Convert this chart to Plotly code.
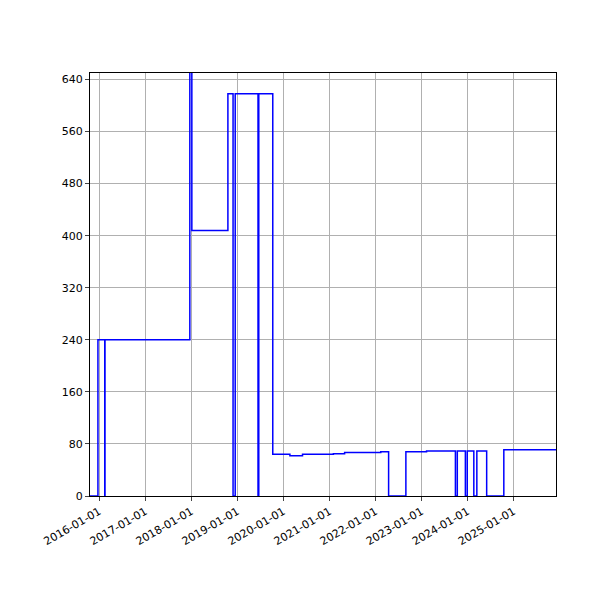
import plotly.graph_objects as go

dates = ["2015-10-20","2015-12-22","2016-02-14","2016-02-16","2017-12-20","2018-01-05",
         "2018-10-18","2018-11-28","2018-12-15","2019-06-14","2019-06-20","2019-10-09",
         "2020-02-22","2020-06-01","2021-02-01","2021-05-01","2022-02-12","2022-04-15",
         "2022-08-30","2023-02-10","2023-09-27","2023-10-12","2023-12-15","2023-12-30",
         "2024-02-20","2024-03-15","2024-06-01","2024-10-15","2025-12-03"]
values = [0,240,0,240,700,408,
          618,0,618,0,618,64,
          62,64,65,67,68,0,
          68,69,0,69,0,69,
          0,69,0,71,71]
ytick_vals = [0,80,160,240,320,400,480,560,640]
xtick_vals = [f"{y}-01-01" for y in range(2016,2026)]

fig = go.Figure(go.Scatter(x=dates, y=values, mode="lines", line=dict(color="blue", width=1.5, shape="hv")))
fig.update_layout(
    width=600, height=600, plot_bgcolor="white", paper_bgcolor="white",
    margin=dict(l=82, r=52, t=65, b=112), showlegend=False,
    font=dict(family="DejaVu Sans", size=11, color="black"),
)
fig.update_xaxes(range=["2015-10-20","2025-12-03"], tickvals=xtick_vals, ticktext=xtick_vals,
                 tickangle=-30, showgrid=True, gridcolor="#b0b0b0", showline=True, linecolor="black",
                 mirror=True, ticks="outside", ticklen=4, zeroline=False)
fig.update_yaxes(range=[0,650], tickvals=ytick_vals, showgrid=True, gridcolor="#b0b0b0",
                 showline=True, linecolor="black", mirror=True, ticks="outside", ticklen=4, zeroline=False)
fig.write_html("out.html")
